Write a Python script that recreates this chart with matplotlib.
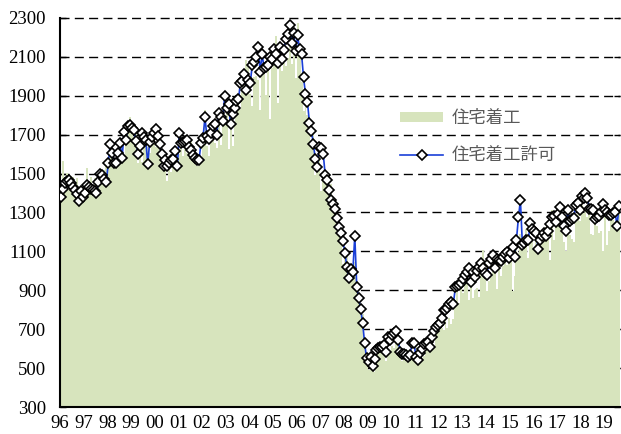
import numpy as np
import matplotlib
matplotlib.use('Agg')
import matplotlib.pyplot as plt

# year labels (Jan 1996 .. Aug 2019, monthly)
years = ['96', '97', '98', '99', '00', '01', '02', '03', '04', '05', '06', '07',
         '08', '09', '10', '11', '12', '13', '14', '15', '16', '17', '18', '19']

# housing starts (thousands, SAAR)
starts = [
    1437, 1563, 1484, 1501, 1474, 1490, 1484, 1441, 1475, 1393, 1403, 1351,
    1376, 1527, 1447, 1484, 1387, 1476, 1460, 1425, 1457, 1483, 1518, 1558,
    1525, 1631, 1582, 1570, 1547, 1616, 1592, 1638, 1567, 1713, 1769, 1792,
    1748, 1670, 1710, 1553, 1611, 1559, 1669, 1648, 1635, 1608, 1648, 1708,
    1636, 1737, 1604, 1626, 1575, 1559, 1463, 1541, 1507, 1549, 1551, 1532,
    1600, 1625, 1590, 1649, 1605, 1636, 1670, 1567, 1562, 1540, 1602, 1568,
    1698, 1829, 1642, 1592, 1764, 1717, 1655, 1633, 1804, 1648, 1753, 1788,
    1853, 1629, 1726, 1643, 1751, 1867, 1897, 1833, 1939, 1967, 2083, 2057,
    1911, 1846, 1998, 2003, 1981, 1828, 2002, 2024, 1905, 2072, 1782, 2042,
    2144, 2207, 1864, 2061, 2025, 2068, 2054, 2095, 2151, 2065, 2147, 1994,
    2273, 2119, 1969, 1821, 1942, 1802, 1737, 1650, 1720, 1491, 1570, 1649,
    1409, 1480, 1495, 1490, 1415, 1448, 1354, 1330, 1183, 1264, 1197, 1037,
    1084, 1103, 1005, 1013, 973, 1046, 923, 844, 820, 777, 652, 560,
    490, 582, 505, 478, 540, 585, 594, 586, 585, 534, 588, 581,
    614, 604, 636, 687, 583, 536, 546, 599, 594, 543, 545, 539,
    630, 517, 600, 554, 561, 608, 623, 585, 650, 610, 711, 694,
    723, 704, 695, 753, 708, 757, 728, 754, 847, 915, 833, 976,
    888, 962, 1010, 851, 919, 859, 900, 910, 868, 1036, 1109, 1019,
    894, 949, 969, 1063, 1019, 908, 1084, 972, 1024, 1093, 1032, 1084,
    1114, 898, 975, 1177, 1091, 1189, 1134, 1127, 1213, 1064, 1178, 1152,
    1112, 1203, 1110, 1170, 1147, 1194, 1223, 1163, 1058, 1311, 1159, 1273,
    1245, 1301, 1199, 1147, 1104, 1215, 1185, 1166, 1150, 1251, 1317, 1254,
    1336, 1299, 1328, 1276, 1329, 1189, 1184, 1280, 1229, 1197, 1207, 1101,
    1291, 1134, 1203, 1265, 1263, 1249, 1223, 1300,
]

# building permits (thousands, SAAR)
permits = [
    1381, 1419, 1450, 1460, 1467, 1453, 1430, 1416, 1395, 1361, 1413, 1381,
    1400, 1441, 1429, 1420, 1416, 1410, 1399, 1459, 1498, 1493, 1470, 1459,
    1556, 1652, 1607, 1553, 1553, 1607, 1656, 1579, 1716, 1673, 1745, 1750,
    1735, 1724, 1669, 1601, 1642, 1707, 1687, 1673, 1550, 1665, 1687, 1710,
    1728, 1693, 1652, 1601, 1539, 1570, 1539, 1553, 1570, 1573, 1618, 1539,
    1707, 1659, 1663, 1670, 1673, 1635, 1621, 1596, 1580, 1570, 1570, 1656,
    1682, 1789, 1693, 1676, 1710, 1745, 1755, 1698, 1810, 1793, 1772, 1899,
    1836, 1858, 1755, 1806, 1836, 1875, 1882, 1967, 1978, 2012, 1930, 1981,
    1967, 2058, 2075, 2100, 2152, 2024, 2115, 2041, 2050, 2058, 2098, 2088,
    2139, 2115, 2067, 2152, 2087, 2135, 2190, 2218, 2264, 2170, 2224, 2132,
    2211, 2139, 2115, 1995, 1909, 1868, 1762, 1721, 1652, 1573, 1536, 1638,
    1630, 1601, 1493, 1467, 1416, 1364, 1344, 1317, 1270, 1227, 1196, 1155,
    1093, 1018, 961, 1008, 996, 1181, 918, 859, 802, 730, 627, 550,
    533, 559, 511, 545, 593, 605, 610, 610, 619, 585, 661, 645,
    670, 680, 691, 645, 585, 573, 570, 568, 559, 565, 627, 631,
    559, 542, 576, 600, 624, 630, 636, 610, 661, 690, 709, 722,
    733, 760, 799, 799, 810, 830, 841, 832, 915, 920, 927, 939,
    960, 979, 995, 1013, 944, 996, 970, 1000, 1020, 1039, 1013, 990,
    979, 1039, 1060, 1082, 1013, 1059, 1055, 1052, 1072, 1087, 1099, 1064,
    1090, 1124, 1070, 1161, 1275, 1364, 1133, 1145, 1159, 1159, 1247, 1213,
    1205, 1196, 1110, 1159, 1180, 1196, 1179, 1206, 1240, 1278, 1282, 1253,
    1290, 1327, 1278, 1230, 1206, 1313, 1258, 1265, 1270, 1338, 1350, 1313,
    1385, 1373, 1398, 1373, 1316, 1316, 1313, 1265, 1275, 1282, 1300, 1344,
    1313, 1300, 1287, 1287, 1295, 1304, 1231, 1333,
]

fig = plt.figure(figsize=(6.21, 4.34), dpi=100)
ax = fig.add_axes([60 / 621, 1 - 407 / 434, 560 / 621, 389 / 434])

x = np.arange(len(starts))
yticks = list(range(300, 2301, 200))

# dashed horizontal grid, behind the area
for v in yticks[1:]:
    ax.axhline(v, color='black', lw=1.0, linestyle=(0, (6.5, 3.8)), zorder=1, clip_on=False)

bars = ax.bar(x, starts, width=1.0, color='#d7e4bd', linewidth=0, label='住宅着工', zorder=2)
line, = ax.plot(x, permits, color='#1a3fd8', lw=1.2, marker='D', markersize=4.6,
                markerfacecolor='white', markeredgecolor='black', markeredgewidth=1.2,
                label='住宅着工許可', zorder=3)

ax.set_xlim(-0.5, len(starts) - 0.5)
ax.set_ylim(300, 2300)
ax.set_yticks(yticks)
ax.set_xticks([12 * k - 0.5 for k in range(len(years))])
ax.set_xticklabels(years)

for s in ['top', 'right']:
    ax.spines[s].set_visible(False)
for s in ['left', 'bottom']:
    ax.spines[s].set_linewidth(1.5)
    ax.spines[s].set_color('black')

ax.tick_params(axis='y', direction='in', length=4, width=1.0, pad=10, right=True)
ax.tick_params(axis='x', direction='in', length=4, width=1.0, pad=6)
for lab in ax.get_xticklabels() + ax.get_yticklabels():
    lab.set_family('Liberation Serif')
    lab.set_fontsize(13.5)

ax.legend(handles=[bars, line], loc='upper left', bbox_to_anchor=(400 / 621, 1 - 109 / 434),
          bbox_transform=fig.transFigure, frameon=False,
          prop={'family': 'Noto Sans CJK JP', 'size': 12.5}, labelcolor='#595959',
          handlelength=2.5, handleheight=0.5, handletextpad=0.45,
          labelspacing=1.1, borderpad=0, borderaxespad=0)

fig.savefig('out.png', dpi=100)
